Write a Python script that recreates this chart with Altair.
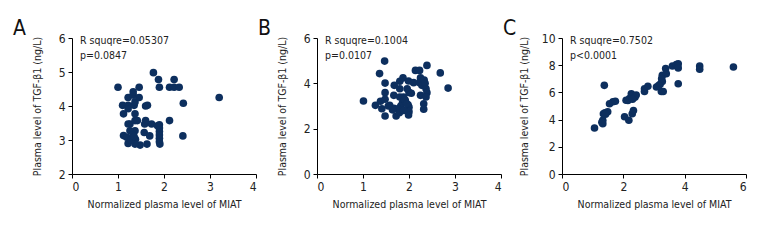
import altair as alt
import pandas as pd

FONT = "Liberation Sans Narrow, DejaVu Sans Condensed, Arial Narrow, sans-serif"
DOT = "#0d2f5e"
TXT = "#222222"

x_title = "Normalized plasma level of MIAT"
y_title = "Plasma level of TGF-β1 (ng/L)"

# Panel A
a_x = [1.0, 1.77, 1.88, 1.9, 2.12, 2.22, 2.22, 2.33, 2.42, 3.2, 2.41, 2.12, 1.9, 1.9, 1.9, 1.9,
       1.9, 1.9, 1.91, 1.86, 1.73, 1.58, 1.6, 1.57, 1.69, 1.63, 1.48, 1.38, 1.37, 1.26, 1.12, 1.22,
       1.29, 1.19, 1.33, 1.37, 1.26, 1.37, 1.42, 1.37, 1.22, 1.12, 1.1, 1.22, 1.22, 1.35, 1.37,
       1.22, 1.33, 1.33, 1.46, 1.46, 1.6, 1.64, 1.28, 1.35]
a_y = [4.55, 4.98, 4.78, 4.55, 4.55, 4.78, 4.55, 4.55, 4.08, 4.25, 3.12, 3.57, 3.45, 3.35, 3.25,
       3.15, 3.05, 2.95, 2.88, 3.42, 3.47, 3.47, 3.57, 3.22, 3.12, 2.88, 2.85, 3.02, 3.27, 3.27,
       3.13, 2.9, 3.0, 3.08, 3.15, 2.88, 3.47, 3.57, 3.57, 3.77, 3.47, 3.77, 4.02, 4.02, 3.92,
       4.02, 4.12, 4.25, 4.32, 4.42, 4.55, 4.25, 4.0, 4.02, 3.0, 3.1]
a_lines = ["R squqre=0.05307", "p=0.0847"]

# Panel B
b_x = [1.01, 1.47, 1.36, 1.48, 1.48, 1.38, 1.27, 1.41, 1.48, 1.58, 1.67, 1.72, 1.67, 1.68, 1.8,
       1.8, 1.87, 1.96, 2.0, 1.99, 2.1, 2.14, 2.23, 2.25, 2.23, 2.28, 2.33, 2.35, 2.37, 2.39, 2.39,
       2.25, 2.37, 2.32, 2.32, 2.68, 2.85, 2.05, 1.88, 1.92, 1.86, 1.98, 2.0, 2.0, 1.99, 1.8, 1.82,
       1.76, 1.79, 1.88, 1.64, 1.55, 1.9, 1.95, 1.48]
b_y = [3.22, 4.98, 4.43, 4.01, 3.59, 3.21, 3.03, 2.88, 2.56, 3.03, 2.9, 2.56, 3.47, 3.91, 3.76,
       4.09, 4.24, 3.76, 3.6, 4.1, 4.03, 4.57, 4.57, 4.24, 4.03, 3.91, 4.15, 4.0, 3.76, 3.59, 4.79,
       3.47, 3.4, 3.1, 2.86, 4.46, 3.79, 3.56, 3.4, 3.25, 3.15, 3.05, 2.95, 2.75, 2.6, 3.4, 3.0,
       2.88, 2.7, 2.8, 2.83, 3.0, 3.3, 3.1, 3.3]
b_lines = ["R squqre=0.1004", "p=0.0107"]

# Panel C
c_x = [1.06, 1.33, 1.33, 1.35, 1.38, 1.49, 1.4, 1.55, 1.66, 1.74, 2.04, 2.18, 2.29, 2.33, 2.09,
       2.2, 2.26, 2.3, 2.38, 2.42, 2.69, 2.69, 2.8, 3.08, 3.2, 3.27, 3.24, 3.3, 3.27, 3.38, 3.4,
       3.6, 3.73, 3.79, 3.79, 3.79, 4.49, 4.49, 5.59, 1.42, 2.15, 2.3, 3.25, 3.15, 1.3]
c_y = [3.38, 3.7, 3.95, 4.43, 6.52, 4.58, 4.5, 5.17, 5.31, 5.35, 4.21, 3.95, 4.43, 4.67, 5.42,
       5.54, 5.9, 5.75, 5.65, 5.8, 6.27, 6.07, 6.45, 6.4, 6.6, 6.8, 6.07, 6.07, 7.25, 7.75, 7.38,
       7.94, 8.04, 8.1, 7.8, 6.64, 7.94, 7.7, 7.87, 4.4, 5.4, 5.5, 7.0, 6.5, 3.8]
c_lines = ["R squqre=0.7502", "p<0.0001"]

letters = ["A", "B", "C"]


def panel(xs, ys, xdom, xticks, ydom, yticks, letter, lines, ypad):
    df = pd.DataFrame({"x": xs, "y": ys})
    pts = alt.Chart(df).mark_circle(size=58, opacity=1, color=DOT).encode(
        x=alt.X("x:Q", scale=alt.Scale(domain=xdom, nice=False),
                axis=alt.Axis(values=xticks, title=x_title, format="d")),
        y=alt.Y("y:Q", scale=alt.Scale(domain=ydom, nice=False),
                axis=alt.Axis(values=yticks, title=y_title, format="d", titlePadding=ypad)),
    )
    l1 = alt.Chart(pd.DataFrame({"t": [lines[0]]})).mark_text(
        align="left", baseline="middle", fontSize=10.5, font=FONT, color=TXT
    ).encode(text="t:N", x=alt.value(8), y=alt.value(3))
    l2 = alt.Chart(pd.DataFrame({"t": [lines[1]]})).mark_text(
        align="left", baseline="middle", fontSize=10.5, font=FONT, color=TXT
    ).encode(text="t:N", x=alt.value(8), y=alt.value(18))
    let = alt.Chart(pd.DataFrame({"t": [letter]})).mark_text(
        align="left", baseline="alphabetic", fontSize=21, font=FONT, color="#111111"
    ).encode(text="t:N", x=alt.value(-59), y=alt.value(-3))
    return alt.layer(pts, l1, l2, let).properties(width=184, height=136)


pa = panel(a_x, a_y, [0, 4], [0, 1, 2, 3, 4], [2, 6], [2, 3, 4, 5, 6], letters[0], a_lines, 16)
pb = panel(b_x, b_y, [0, 4], [0, 1, 2, 3, 4], [0, 6], [0, 2, 4, 6], letters[1], b_lines, 16)
pc = panel(c_x, c_y, [0, 6], [0, 2, 4, 6], [0, 10], [0, 2, 4, 6, 8, 10], letters[2], c_lines, 12)

chart = alt.hconcat(pa, pb, pc, spacing=61, bounds="flush").properties(
    padding={"left": 5, "top": 10, "right": 5, "bottom": 5}
).configure_view(stroke=None).configure_axis(
    grid=False, domainColor="#000000", tickColor="#000000", tickSize=4,
    labelFont=FONT, titleFont=FONT, labelFontSize=12, titleFontSize=10.5,
    titleFontWeight="normal", labelColor=TXT, titleColor=TXT, labelPadding=3,
).configure_axisX(titlePadding=7)

chart.save("out.html", embed_options={"renderer": "svg", "actions": False})
